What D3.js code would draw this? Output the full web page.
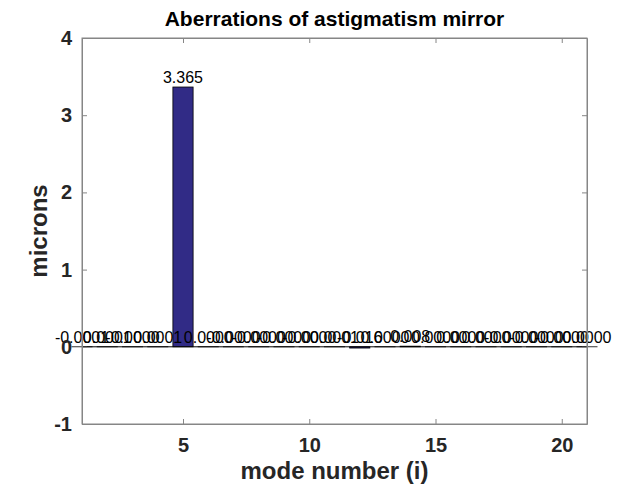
<!DOCTYPE html>
<html>
<head>
<meta charset="utf-8">
<script src="https://cdn.jsdelivr.net/npm/d3@7"></script>
<style>
  body { margin: 0; background: #fff; }
  text { font-family: "Liberation Sans", Arial, sans-serif; }
</style>
</head>
<body>
<div id="wrapper"></div>
<script>
// data
const modes = d3.range(1, 22);
const values = [-0.0001, 0.0001, -0.00004, 0.0001, 3.365, 0.00004, -0.00004, -0.00004,
  -0.00004, -0.00004, 0.0001, -0.016, 0.00004, 0.008, 0.00004, 0.00004, 0.00004,
  -0.00004, -0.00004, -0.00004, 0.00004];
const valueLabels = ["-0.0001", "0.0001", "-0.0000", "0.0001", "3.365", "0.0000", "-0.0000",
  "-0.0000", "-0.0000", "-0.0000", "0.0001", "-0.016", "0.0000", "0.008", "0.0000",
  "0.0000", "0.0000", "-0.0000", "-0.0000", "-0.0000", "0.0000"];
const xTicks = [5, 10, 15, 20];
const yTicks = [-1, 0, 1, 2, 3, 4];

const dimensions = {
  width: 617,
  height: 491,
  margin: { top: 38, right: 30, bottom: 67, left: 82 },
};
dimensions.boundedWidth = dimensions.width - dimensions.margin.left - dimensions.margin.right;
dimensions.boundedHeight = dimensions.height - dimensions.margin.top - dimensions.margin.bottom;

const svg = d3.select("#wrapper").append("svg")
  .attr("width", dimensions.width)
  .attr("height", dimensions.height);

const bounds = svg.append("g")
  .attr("transform", `translate(${dimensions.margin.left},${dimensions.margin.top})`);

const xScale = d3.scaleLinear().domain([1, 21]).range([0, dimensions.boundedWidth]);
const yScale = d3.scaleLinear().domain([-1, 4]).range([dimensions.boundedHeight, 0]);

const barWidth = xScale(1.8) - xScale(1);
const axisColor = "#868686";

// bars
bounds.append("g").selectAll("rect")
  .data(modes)
  .join("rect")
  .attr("x", (d) => xScale(d) - barWidth / 2)
  .attr("y", (d, i) => yScale(Math.max(0, values[i])))
  .attr("width", barWidth)
  .attr("height", (d, i) => Math.abs(yScale(values[i]) - yScale(0)))
  .attr("fill", "#312b86")
  .attr("stroke", "#000")
  .attr("stroke-width", 0.8);

// baseline
bounds.append("line")
  .attr("x1", 0).attr("x2", dimensions.boundedWidth)
  .attr("y1", yScale(0)).attr("y2", yScale(0))
  .attr("stroke", "#000");

// value labels
bounds.append("g").selectAll("text")
  .data(modes)
  .join("text")
  .attr("x", (d) => xScale(d))
  .attr("y", (d, i) => yScale(Math.max(0, values[i])) - 4)
  .attr("text-anchor", "middle")
  .style("font-size", "16px")
  .attr("fill", "#000")
  .text((d, i) => valueLabels[i]);

// box
bounds.append("rect")
  .attr("width", dimensions.boundedWidth)
  .attr("height", dimensions.boundedHeight)
  .attr("fill", "none")
  .attr("stroke", axisColor);

// axes
const xAxis = bounds.append("g")
  .attr("transform", `translate(0,${dimensions.boundedHeight})`)
  .call(d3.axisBottom(xScale).tickValues(xTicks).tickSizeInner(-5).tickSizeOuter(0).tickPadding(14));
const xAxisTop = bounds.append("g")
  .call(d3.axisTop(xScale).tickValues(xTicks).tickSizeInner(-5).tickSizeOuter(0).tickFormat(""));
const yAxis = bounds.append("g")
  .call(d3.axisLeft(yScale).tickValues(yTicks).tickSizeInner(-5).tickSizeOuter(0).tickPadding(10)
    .tickFormat((d) => String(d)));
const yAxisRight = bounds.append("g")
  .attr("transform", `translate(${dimensions.boundedWidth},0)`)
  .call(d3.axisRight(yScale).tickValues(yTicks).tickSizeInner(-5).tickSizeOuter(0).tickFormat(""));

[xAxis, xAxisTop, yAxis, yAxisRight].forEach((a) => {
  a.select(".domain").attr("stroke", axisColor);
  a.selectAll(".tick line").attr("stroke", axisColor);
  a.selectAll(".tick text")
    .attr("fill", "#262626")
    .style("font-size", "20px")
    .style("font-weight", "bold")
    .style("font-family", "'Liberation Sans', Arial, sans-serif");
});

// labels
svg.append("text")
  .attr("x", dimensions.margin.left + dimensions.boundedWidth / 2)
  .attr("y", 26)
  .attr("text-anchor", "middle")
  .style("font-size", "21px")
  .style("font-weight", "bold")
  .text("Aberrations of astigmatism mirror");

svg.append("text")
  .attr("x", dimensions.margin.left + dimensions.boundedWidth / 2)
  .attr("y", 479)
  .attr("text-anchor", "middle")
  .attr("fill", "#262626")
  .style("font-size", "24px")
  .style("font-weight", "bold")
  .text("mode number (i)");

svg.append("text")
  .attr("transform", `translate(47,${dimensions.margin.top + yScale(1.5)}) rotate(-90)`)
  .attr("text-anchor", "middle")
  .attr("fill", "#262626")
  .style("font-size", "24px")
  .style("font-weight", "bold")
  .text("microns");
</script>
</body>
</html>
